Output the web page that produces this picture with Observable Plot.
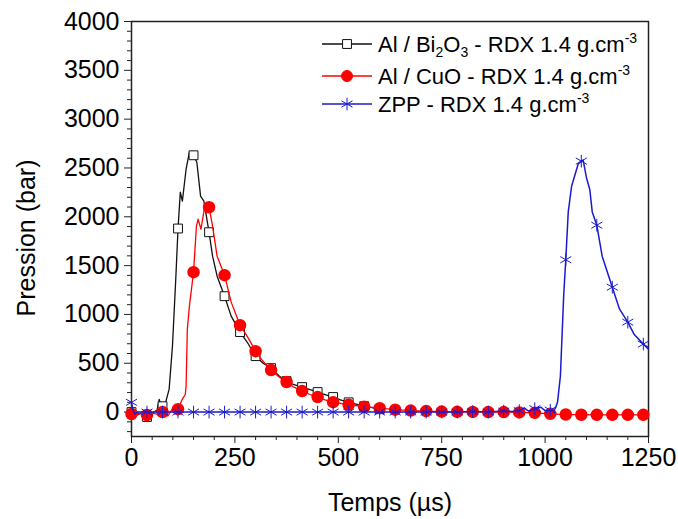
<!DOCTYPE html>
<html><head><meta charset="utf-8">
<script src="https://cdn.jsdelivr.net/npm/d3@7"></script>
<script src="https://cdn.jsdelivr.net/npm/@observablehq/plot@0.6"></script>
<style>body{margin:0;background:#fff}</style>
</head><body><div id="chart"></div>
<script>
// Series time (µs) and pressure (bar) values
const bi2o3T = [0,10,20,30,37.5,50,62,67,72,75,82,91,99,107,112.5,118,123,132,140,147,150,158,167,175,187.5,196,207,225,241,262.5,282,300,318,337.5,357,375,393,412.5,432,450,468,487.5,505,525,545,562.5,600];
const bi2o3P = [0,10,-20,10,-50,-10,20,130,60,60,90,235,675,1361,1880,2252,2160,2487,2661,2665,2630,2559,2211,2160,1842,1597,1392,1187,983,819,700,573,500,450,370,317,280,256,230,205,180,154,125,100,80,60,30];

const cuoT = [0,8,15,25,37.5,50,62,75,88,100,112.5,123,130,132,135,140,150,157,161,168,176,187.5,196,207,225,241,262.5,282,300,318,337.5,357,375,393,412.5,432,450,468,487.5,525,562.5,600,637.5,675,712.5,750,787.5,825,862.5,900,937.5,975,1012.5,1050,1087.5,1125,1162.5,1200,1237.5,1250];
const cuoP = [-20,10,-30,0,-30,-10,-20,0,-40,40,30,133,180,266,850,1085,1433,1904,1975,1873,2078,2098,1904,1597,1402,1126,890,760,624,520,430,360,307,255,215,180,154,125,102,75,55,40,25,15,10,5,3,2,0,0,-3,-8,-18,-25,-27,-28,-28,-28,-28,-28];

const zppT = [0,3,8,15,37.5,75,112.5,150,187.5,225,262.5,300,337.5,375,412.5,450,487.5,525,562.5,600,637.5,675,712.5,750,787.5,825,862.5,900,920,937.5,950,960,975,990,1000,1012.5,1020,1025,1030,1037,1045,1050,1056,1064,1080,1087.5,1092,1100,1108,1114,1125,1138,1162.5,1180,1200,1215,1237.5,1250];
const zppP = [100,30,-20,0,0,0,0,0,0,0,0,0,0,0,0,0,0,0,0,0,0,0,0,0,0,5,0,10,5,15,40,10,35,50,15,20,10,40,100,370,1200,1560,2050,2313,2540,2570,2580,2400,2280,2050,1914,1597,1279,1054,921,798,696,645];

// Times at which markers are drawn
const markerTimes = [0,37.5,75,112.5,150,187.5,225,262.5,300,337.5,375,412.5,450,487.5,525,562.5,600,637.5,675,712.5,750,787.5,825,862.5,900,937.5,975,1012.5,1050,1087.5,1125,1162.5,1200,1237.5];

const xTicks = [0,250,500,750,1000,1250];
const xMinor = [50,100,150,200,300,350,400,450,550,600,650,700,800,850,900,950,1050,1100,1150,1200];
const yTicks = [0,500,1000,1500,2000,2500,3000,3500,4000];
const yMinor = [-200,-100,100,200,300,400,600,700,800,900,1100,1200,1300,1400,1600,1700,1800,1900,2100,2200,2300,2400,2600,2700,2800,2900,3100,3200,3300,3400,3600,3700,3800,3900];

const xTitle = "Temps (µs)";
const yTitle = "Pression (bar)";
const legendLabels = [
  ["Al / Bi", {sub:"2"}, "O", {sub:"3"}, " - RDX 1.4 g.cm", {sup:"-3"}],
  ["Al / CuO - RDX 1.4 g.cm", {sup:"-3"}],
  ["ZPP - RDX 1.4 g.cm", {sup:"-3"}]
];

const toRows = (T, P) => T.map((t, i) => ({t, p: P[i]}));
const bi = toRows(bi2o3T, bi2o3P);
const cu = toRows(cuoT, cuoP);
const zp = toRows(zppT, zppP);
const mset = new Set(markerTimes);
const isMarker = d => mset.has(d.t);

const BLACK = "#111", RED = "#ff0000", BLUE = "#1a1ad0";
const FONT = "'Liberation Sans', Arial, sans-serif";
const fmt = d3.format("d");

const chart = Plot.plot({
  width: 678, height: 519,
  marginLeft: 131, marginRight: 30, marginTop: 21, marginBottom: 83,
  style: {fontFamily: FONT, fontSize: "25px", background: "#fff", color: "#000"},
  x: {domain: [0, 1250]},
  y: {domain: [-250, 4000]},
  marks: [
    Plot.axisX(xMinor, {tickSize: 4, tickFormat: () => "", label: null, stroke: "#222"}),
    Plot.axisY(yMinor, {tickSize: 4, tickFormat: () => "", label: null, stroke: "#222"}),
    Plot.axisX(xTicks, {tickSize: 7, tickPadding: 5, fontSize: 25, tickFormat: fmt, label: null, stroke: "#222"}),
    Plot.axisY(yTicks, {tickSize: 7, tickPadding: 5, fontSize: 25, tickFormat: fmt, label: null, stroke: "#222"}),
    Plot.text([xTitle], {frameAnchor: "bottom", dy: 66, lineAnchor: "middle", textAnchor: "middle", fontSize: 25, fill: "#000"}),
    Plot.text([yTitle], {frameAnchor: "left", dx: -105, dy: 9, rotate: -90, lineAnchor: "middle", textAnchor: "middle", fontSize: 25, fill: "#000"}),
    Plot.frame({stroke: "#222", strokeWidth: 1.5}),
    Plot.line(bi, {x: "t", y: "p", stroke: BLACK, strokeWidth: 1.3}),
    Plot.dot(bi.filter(isMarker), {x: "t", y: "p", symbol: "square", r: 5, fill: "#fff", stroke: BLACK, strokeWidth: 1}),
    Plot.line(cu, {x: "t", y: "p", stroke: RED, strokeWidth: 1.3}),
    Plot.dot(cu.filter(isMarker), {x: "t", y: "p", symbol: "circle", r: 5.5, fill: RED, stroke: RED}),
    Plot.line(zp, {x: "t", y: "p", stroke: BLUE, strokeWidth: 1.5}),
    Plot.dot(zp.filter(isMarker), {x: "t", y: "p", symbol: "asterisk", r: 6, fill: "none", stroke: BLUE, strokeWidth: 1})
  ]
});
document.getElementById("chart").appendChild(chart);

// Legend drawn inside the SVG
const svg = d3.select(chart);
const legend = svg.append("g").attr("font-family", FONT).attr("font-size", 22).attr("text-anchor", "start");
const items = [
  {color: BLACK, sym: d3.symbolSquare, size: 5*5*Math.PI, fill: "#fff"},
  {color: RED, sym: d3.symbolCircle, size: 5.5*5.5*Math.PI, fill: RED},
  {color: BLUE, sym: d3.symbolAsterisk, size: 6*6*Math.PI, fill: "none"}
];
const rowY = [44, 76, 104];
items.forEach((it, i) => {
  const y = rowY[i];
  legend.append("line").attr("x1", 322).attr("x2", 372).attr("y1", y).attr("y2", y)
    .attr("stroke", it.color).attr("stroke-width", 1.3);
  legend.append("path").attr("d", d3.symbol(it.sym, it.size)()).attr("transform", `translate(347,${y})`)
    .attr("fill", it.fill).attr("stroke", it.color);
  const text = legend.append("text").attr("x", 378).attr("y", y + 8).attr("fill", "#000").attr("text-anchor", "start");
  let pendingDy = 0;
  legendLabels[i].forEach(part => {
    if (typeof part === "string") {
      text.append("tspan").attr("dy", pendingDy).text(part);
      pendingDy = 0;
    } else if (part.sub) {
      text.append("tspan").attr("font-size", 14).attr("dy", 5).text(part.sub);
      pendingDy = -5;
    } else if (part.sup) {
      text.append("tspan").attr("font-size", 14).attr("dy", -9).text(part.sup);
    }
  });
});
</script>
</body></html>
